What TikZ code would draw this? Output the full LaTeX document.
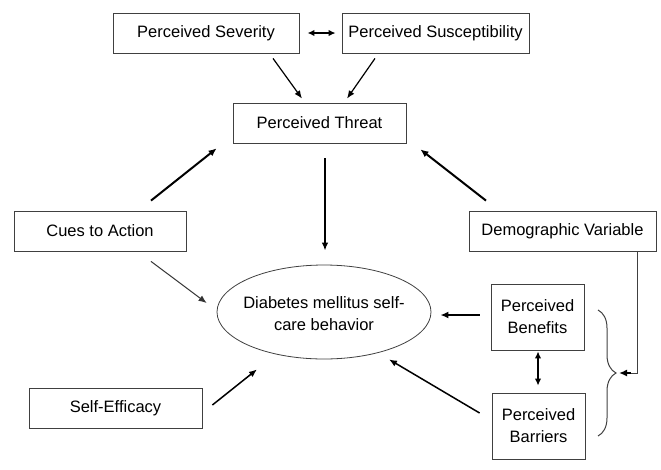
\documentclass[tikz,border=0pt]{standalone}
\usepackage{fontspec}
\setmainfont{Liberation Sans}
\usetikzlibrary{arrows.meta,shapes.geometric,decorations.pathreplacing}
\begin{document}
\begin{tikzpicture}[x=1pt,y=-1pt,
  every node/.style={font=\fontsize{16.5}{22}\selectfont, text=black},
  box/.style={draw=black!75, line width=0.8pt, inner sep=0pt, align=center},
  thin arrow/.style={line width=1.2pt, -{Latex[length=8pt,width=6.5pt]}},
  thick arrow/.style={line width=2pt, -{Latex[length=8pt,width=7pt]}},
  both arrow/.style={line width=2pt, {Latex[length=7pt,width=6.5pt]}-{Latex[length=7pt,width=6.5pt]}}]
\useasboundingbox (0,0) rectangle (661,469);
\node[box, minimum width=186pt, minimum height=40pt] (sev) at (206,33) {Perceived Severity};
\node[box, minimum width=187pt, minimum height=40pt] (sus) at (435.5,33) {Perceived Susceptibility};
\node[box, minimum width=173pt, minimum height=40pt] (thr) at (319.5,123) {Perceived Threat};
\node[box, minimum width=172pt, minimum height=40pt] (cues) at (100,231) {Cues to Action};
\node[box, minimum width=187pt, minimum height=40pt] (demo) at (562.5,231) {Demographic Variable};
\node[box, minimum width=93pt, minimum height=66pt] (ben) at (537.5,317) {Perceived\\Benefits};
\node[box, minimum width=93pt, minimum height=66pt] (bar) at (538.5,426) {Perceived\\Barriers};
\node[box, minimum width=173pt, minimum height=40pt] (self) at (115.5,408) {Self-Efficacy};
\node[ellipse, draw=black!75, line width=0.8pt, minimum width=214pt, minimum height=94pt, inner sep=0pt, align=center] (ell) at (324,312) {};
\node[align=center] (elltext) at (324,314) {Diabetes mellitus self-\\care behavior};
\coordinate (bt) at (619,373);

\draw[both arrow] ([xshift=8]sev.east) -- ([xshift=-6]sus.west);
\draw[thin arrow] ([shift={(67,5)}]sev.south) -- ([shift={(-17.5,-4)}]thr.north);
\draw[thin arrow] ([shift={(-60.5,5)}]sus.south) -- ([shift={(27.5,-4)}]thr.north);
\draw[thick arrow] ([shift={(51,-10)}]cues.north) -- ([shift={(-16,5)}]thr.south west);
\draw[thick arrow] ([shift={(-76.5,-10)}]demo.north) -- ([shift={(14,6)}]thr.south east);
\draw[thin arrow, line width=1.5pt] ([shift={(5.5,15)}]thr.south) -- ([shift={(1,-14)}]ell.north);
\draw[thin arrow, line width=1pt, draw=black!80] ([shift={(51,10)}]cues.south) -- ([shift={(-10,-9)}]ell.west);
\draw[thin arrow, line width=1.5pt] ([shift={(10,-3)}]self.east) -- ([shift={(-67,10)}]ell.south);
\draw[thick arrow] ([shift={(-11,-2)}]ben.west) -- ([shift={(9,3)}]ell.east);
\draw[thin arrow, line width=1.5pt] ([shift={(-12,-13)}]bar.west) -- ([shift={(65,0)}]ell.south);
\draw[both arrow] ([shift={(0.5,1)}]ben.south) -- ([shift={(-0.5,-7)}]bar.north);
\draw[line width=1pt, draw=black!75, decorate, decoration={brace, amplitude=18pt}] (598,310) -- (598,436);
\draw[line width=1pt, draw=black!75] ([xshift=74.5]demo.south) |- ([xshift=12]bt);
\draw[thick arrow] ([xshift=12]bt) -- (bt);
\end{tikzpicture}
\end{document}
